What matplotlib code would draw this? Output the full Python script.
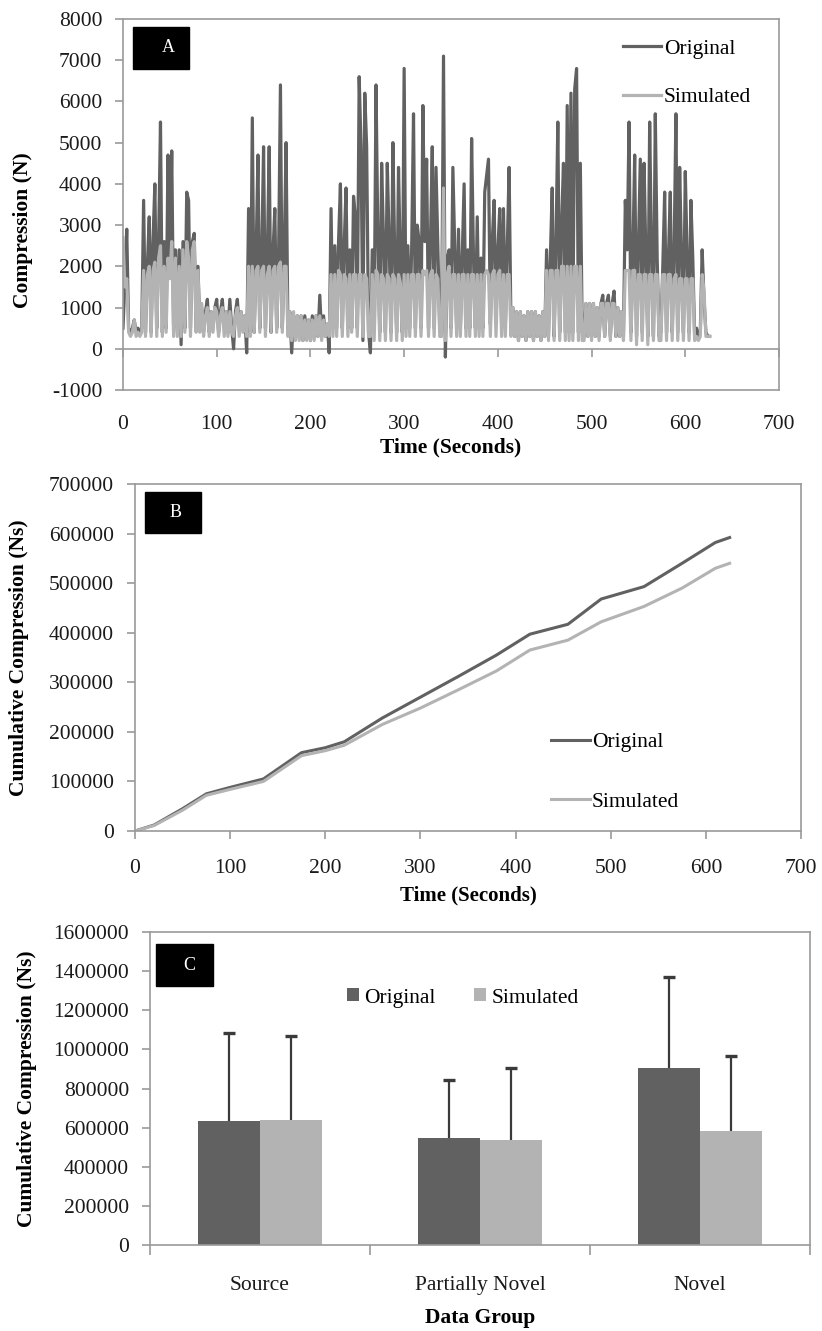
import numpy as np
import matplotlib
matplotlib.use('Agg')
import matplotlib.pyplot as plt
from matplotlib.patches import Rectangle

plt.rcParams['font.family'] = ['Liberation Serif', 'DejaVu Serif']

DARK = '#616161'
LIGHT = '#b3b3b3'
FRAME = '#9a9a9a'
TXT = '#1a1a1a'

step_a = 2
orig_a_x100 = [
    5, 16, 29, 5, 4, 5, 7, 4, 5, 4,
    5, 36, 4, 20, 32, 4, 26, 40, 5, 26,
    55, 4, 26, 5, 47, 18, 48, 5, 24, 4,
    24, 1, 26, 5, 38, 36, 5, 26, 28, 5,
    20, 5, 10, 4, 9, 12, 4, 9, 5, 10,
    12, 4, 9, 12, 5, 9, 4, 12, 5, 0,
    9, 12, 5, 9, 5, 8, -1, 34, 4, 56,
    4, 22, 47, 5, 22, 49, 5, 22, 49, 4,
    23, 34, 5, 22, 64, 5, 22, 50, 4, 9,
    -1, 8, 3, 8, 3, 8, 2, 8, 3, 7,
    2, 8, 3, 8, 3, 13, 3, 8, 3, 6,
    -1, 34, 5, 25, 5, 26, 40, 5, 25, 39,
    5, 24, 5, 37, 32, 5, 66, 49, 2, 62,
    49, 4, -1, 24, 5, 64, 26, 4, 45, 26,
    4, 45, 26, 4, 50, 22, 4, 44, 20, 4,
    68, 5, 25, 5, 24, 57, 5, 30, 26, 5,
    59, 26, 46, 5, 25, 49, 5, 44, 24, 5,
    4, 71, -2, 22, 24, 5, 44, 24, 5, 29,
    5, 22, 40, 5, 24, 5, 51, 22, 5, 32,
    5, 22, 5, 38, 42, 46, 6, 26, 36, 6,
    24, 34, 6, 34, 6, 24, 44, 5, 10, 3,
    9, 2, 9, 3, 8, 2, 9, 3, 9, 2,
    9, 3, 8, 2, 9, 3, 24, 3, 22, 39,
    3, 25, 55, 4, 30, 45, 4, 59, 4, 62,
    4, 63, 68, 4, 45, 4, 3, 11, 3, 11,
    3, 11, 3, 10, 3, 11, 13, 3, 11, 13,
    3, 11, 14, 3, 10, 3, 9, 3, 36, 24,
    55, 4, 22, 47, 3, 24, 46, 4, 45, 22,
    3, 55, 22, 3, 57, 22, 3, 4, 20, 38,
    4, 22, 38, 4, 22, 57, 4, 44, 22, 4,
    43, 22, 4, 36, 22, 3, 5, 3, 4, 24,
    12, 4, 3, 3,
]
sim_a_x100 = [
    27, 15, 17, 4, 3, 4, 7, 3, 4, 3,
    4, 19, 3, 18, 20, 3, 19, 21, 3, 22,
    25, 3, 20, 4, 22, 17, 26, 3, 22, 3,
    20, 3, 24, 4, 26, 22, 3, 24, 26, 4,
    19, 4, 11, 3, 8, 10, 3, 9, 4, 10,
    9, 3, 8, 10, 3, 9, 3, 9, 4, 3,
    8, 10, 3, 9, 4, 8, 3, 20, 3, 20,
    4, 19, 20, 4, 19, 20, 3, 18, 20, 4,
    19, 20, 4, 20, 21, 4, 20, 20, 3, 9,
    2, 9, 2, 8, 2, 8, 2, 7, 2, 7,
    2, 7, 2, 8, 3, 8, 2, 7, 3, 6,
    3, 18, 3, 18, 3, 19, 18, 3, 18, 17,
    3, 18, 4, 18, 18, 3, 18, 18, 3, 18,
    17, 3, 3, 18, 2, 19, 18, 2, 18, 17,
    2, 18, 17, 2, 18, 17, 2, 18, 16, 2,
    18, 3, 18, 3, 18, 18, 3, 18, 18, 3,
    19, 18, 19, 3, 18, 19, 3, 18, 17, 3,
    3, 39, 2, 18, 20, 3, 18, 18, 3, 18,
    3, 18, 18, 3, 18, 3, 18, 18, 3, 18,
    3, 18, 3, 18, 19, 18, 3, 18, 19, 3,
    18, 19, 3, 18, 3, 18, 18, 3, 10, 3,
    9, 2, 9, 3, 8, 2, 9, 3, 9, 2,
    9, 3, 8, 2, 9, 3, 19, 2, 19, 19,
    2, 19, 19, 2, 20, 20, 2, 20, 2, 20,
    2, 20, 20, 2, 20, 2, 2, 11, 3, 11,
    2, 11, 3, 10, 2, 11, 11, 3, 11, 11,
    2, 11, 11, 3, 10, 3, 9, 2, 19, 19,
    19, 2, 19, 19, 1, 18, 18, 2, 18, 18,
    1, 18, 18, 2, 18, 18, 2, 2, 18, 18,
    2, 18, 18, 2, 17, 18, 2, 17, 17, 2,
    17, 17, 2, 17, 17, 2, 3, 2, 3, 18,
    14, 3, 3, 3,
]

# Panel B: cumulative compression
time_b = [0, 20, 50, 75, 100, 135, 175, 200, 220, 260, 300, 340, 380, 415, 455, 490, 535, 575, 610, 625]
orig_b = [0, 12000, 45000, 75000, 88000, 105000, 158000, 168000, 180000, 228000,
          270000, 312000, 355000, 397000, 417000, 468000, 493000, 540000, 582000, 592000]
sim_b = [0, 11000, 42000, 72000, 84000, 100000, 152000, 162000, 173000, 215000,
         248000, 285000, 323000, 365000, 385000, 422000, 453000, 490000, 530000, 540000]

# Panel C: group means with upper error bars
groups = ['Source', 'Partially Novel', 'Novel']
orig_mean = [633000, 545000, 905000]
orig_sd = [451000, 298000, 465000]
sim_mean = [638000, 536000, 582000]
sim_sd = [429000, 371000, 383000]

W, H = 822, 1331
fig = plt.figure(figsize=(W / 100, H / 100), dpi=100)


def px_axes(l, t, r, b):
    return fig.add_axes([l / W, 1 - b / H, (r - l) / W, (b - t) / H])


def style(ax):
    for s in ax.spines.values():
        s.set_color(FRAME)
        s.set_linewidth(1.2)
    ax.tick_params(labelsize=15.5, color=FRAME, labelcolor=TXT, width=1.2)
    ax.tick_params(axis='y', direction='out', length=6, pad=9)


def tag(letter, l, t, r, b, tx):
    fig.add_artist(Rectangle((l / W, 1 - b / H), (r - l) / W, (b - t) / H,
                             transform=fig.transFigure, color='black'))
    fig.text(tx / W, 1 - ((t + b) / 2) / H, letter, color='white', fontsize=13,
             ha='center', va='center')


# ---- A ----
axA = px_axes(123, 19, 779, 390)
style(axA)
t_a = np.arange(len(orig_a_x100)) * step_a
axA.plot(t_a, np.array(orig_a_x100) * 100, color=DARK, lw=2.3, label='Original')
axA.plot(t_a, np.array(sim_a_x100) * 100, color=LIGHT, lw=2.3, label='Simulated')
axA.set_xlim(0, 700)
axA.set_ylim(-1000, 8000)
xt = list(range(0, 701, 100))
yt = list(range(-1000, 8001, 1000))
axA.set_xticks(xt, [str(v) for v in xt])
axA.set_yticks(yt, [str(v) for v in yt])
axA.tick_params(axis='x', length=0, pad=18)
sec = axA.secondary_xaxis(0, transform=axA.transData)
sec.spines['bottom'].set_color(FRAME)
sec.spines['bottom'].set_linewidth(1.2)
sec.set_xticks(xt)
sec.tick_params(length=6, color=FRAME, width=1.2, labelbottom=False)
axA.set_xlabel('Time (Seconds)', fontsize=15.5, fontweight='bold')
axA.xaxis.set_label_coords(0.5, -0.128)
axA.set_ylabel('Compression (N)', fontsize=15.5, fontweight='bold')
axA.yaxis.set_label_coords(-0.137, 0.43)
axA.legend(loc='center left', bbox_to_anchor=(623 / W, 1 - 73 / H),
           bbox_transform=fig.transFigure, frameon=False, fontsize=15.5,
           handlelength=1.75, handletextpad=0.15, labelspacing=1.3,
           borderpad=0, borderaxespad=0)
tag('A', 133, 27, 189, 69, 168)

# ---- B ----
axB = px_axes(135, 484, 801, 831)
style(axB)
axB.plot(time_b, orig_b, color=DARK, lw=2.2, label='Original')
axB.plot(time_b, sim_b, color=LIGHT, lw=2.2, label='Simulated')
axB.set_xlim(0, 700)
axB.set_ylim(0, 700000)
ytb = list(range(0, 700001, 100000))
axB.set_xticks(xt, [str(v) for v in xt])
axB.set_yticks(ytb, [str(v) for v in ytb])
axB.tick_params(axis='x', direction='out', length=6, pad=14)
axB.set_xlabel('Time (Seconds)', fontsize=15, fontweight='bold')
axB.xaxis.set_label_coords(0.5, -0.158)
axB.set_ylabel('Cumulative Compression (Ns)', fontsize=15.5, fontweight='bold')
axB.yaxis.set_label_coords(-0.159, 0.5)
axB.legend(loc='center left', bbox_to_anchor=(551 / W, 1 - 772 / H),
           bbox_transform=fig.transFigure, frameon=False, fontsize=15.5,
           handlelength=1.8, handletextpad=0.1, labelspacing=1.85,
           borderpad=0, borderaxespad=0)
tag('B', 145, 492, 201, 533, 176)

# ---- C ----
axC = px_axes(150, 932, 810, 1245)
style(axC)
xc = np.arange(len(groups))
bw = 0.28
axC.bar(xc - bw / 2, orig_mean, bw, color=DARK, label='Original', zorder=2)
axC.bar(xc + bw / 2, sim_mean, bw, color=LIGHT, label='Simulated', zorder=2)
for off, m, sd in ((-bw / 2, orig_mean, orig_sd), (bw / 2, sim_mean, sim_sd)):
    m = np.array(m)
    sd = np.array(sd)
    axC.vlines(xc + off, m, m + sd, color='#3a3a3a', lw=1.6, zorder=3)
    axC.plot(xc + off, m + sd, ls='none', marker='_', ms=8, mew=2.4,
             color='#3a3a3a', zorder=3)
axC.set_xlim(-0.5, len(groups) - 0.5)
axC.set_ylim(0, 1600000)
ytc = list(range(0, 1600001, 200000))
axC.set_yticks(ytc, [str(v) for v in ytc])
axC.set_xticks(xc, groups)
axC.set_xticks(np.arange(len(groups) + 1) - 0.5, minor=True)
axC.tick_params(axis='x', which='major', length=0, pad=22)
axC.tick_params(axis='x', which='minor', direction='out', length=7,
                color=FRAME, width=1.2)
axC.set_xlabel('Data Group', fontsize=15.5, fontweight='bold')
axC.xaxis.set_label_coords(0.5, -0.201)
axC.set_ylabel('Cumulative Compression (Ns)', fontsize=15.5, fontweight='bold')
axC.yaxis.set_label_coords(-0.171, 0.5)
axC.legend(loc='center', bbox_to_anchor=(463 / W, 1 - 998 / H),
           bbox_transform=fig.transFigure, frameon=False, fontsize=15.5, ncol=2,
           handlelength=0.55, handleheight=0.55, handletextpad=0.25,
           columnspacing=1.8, borderpad=0, borderaxespad=0)
tag('C', 156, 944, 213, 986, 189)

fig.savefig('out.png', dpi=100)
